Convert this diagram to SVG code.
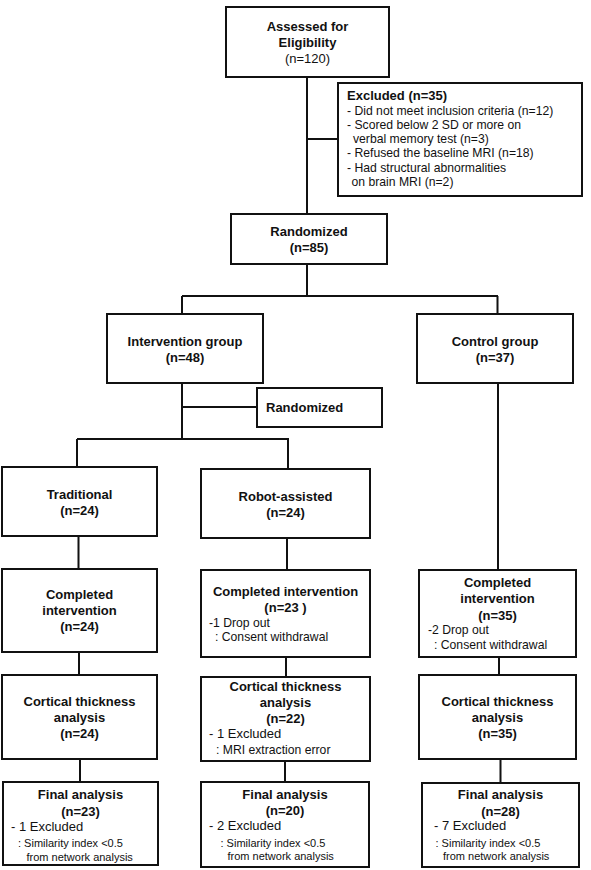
<svg xmlns="http://www.w3.org/2000/svg" width="591" height="870" viewBox="0 0 591 870">
<style>
.box{fill:#fff;stroke:#111;stroke-width:2}
.ln{stroke:#111;stroke-width:2;fill:none}
text{font-family:"Liberation Sans",Arial,sans-serif;fill:#111}
.t{font-size:13px;font-weight:bold;text-anchor:middle}
.n{font-size:13px;text-anchor:middle}
.r{font-size:12.2px}
.r13{font-size:13px}
.s{font-size:11px}
.bl13{font-size:13px;font-weight:bold}
</style>
<rect width="591" height="870" fill="#fff"/>
<g id="connectors">
<path class="ln" d="M307,77V214M307,139H338M307,264V296M182,296H498M182,296V314M497.5,296V314"/>
<path class="ln" d="M182,383V439M182,407H257M77,439H289M77,439V467M288,439V469M498,383V570"/>
<path class="ln" d="M78.5,536V569M287,538V570M79,652V675M286,657V677M499,657V675M80,759V782M285,761V782M500.5,759V783"/>
</g>
<g id="assessed">
<rect class="box" x="226" y="7" width="163" height="70"/>
<text class="t" x="307.5" y="31">Assessed for</text>
<text class="t" x="307.5" y="47">Eligibility</text>
<text class="n" x="307.5" y="63">(n=120)</text>
</g>
<g id="excluded">
<rect class="box" x="338" y="83" width="244" height="113"/>
<text class="bl13" x="347" y="100">Excluded (n=35)</text>
<text class="r" x="347" y="115">- Did not meet inclusion criteria (n=12)</text>
<text class="r" x="347" y="129">- Scored below 2 SD or more on</text>
<text class="r" x="353" y="143">verbal memory test (n=3)</text>
<text class="r" x="347" y="157">- Refused the baseline MRI (n=18)</text>
<text class="r" x="347" y="172">- Had structural abnormalities</text>
<text class="r" x="351.5" y="186">on brain MRI (n=2)</text>
</g>
<g id="randomized1">
<rect class="box" x="231" y="214" width="156" height="50"/>
<text class="t" x="309" y="236">Randomized</text>
<text class="t" x="309" y="252">(n=85)</text>
</g>
<g id="intervention">
<rect class="box" x="107" y="314" width="156" height="69"/>
<text class="t" x="185" y="346">Intervention group</text>
<text class="t" x="185" y="362">(n=48)</text>
</g>
<g id="control">
<rect class="box" x="417" y="314" width="156" height="69"/>
<text class="t" x="495" y="346">Control group</text>
<text class="t" x="495" y="362">(n=37)</text>
</g>
<g id="randomized2">
<rect class="box" x="257" y="388" width="125" height="39"/>
<text class="bl13" x="266" y="412">Randomized</text>
</g>
<g id="traditional">
<rect class="box" x="2" y="467" width="155" height="69"/>
<text class="t" x="79.5" y="499">Traditional</text>
<text class="t" x="79.5" y="515">(n=24)</text>
</g>
<g id="robot">
<rect class="box" x="201" y="469" width="169" height="69"/>
<text class="t" x="285.5" y="501">Robot-assisted</text>
<text class="t" x="285.5" y="517">(n=24)</text>
</g>
<g id="completed-trad">
<rect class="box" x="2" y="569" width="155" height="83"/>
<text class="t" x="79.5" y="599">Completed</text>
<text class="t" x="79.5" y="615">intervention</text>
<text class="t" x="79.5" y="631">(n=24)</text>
</g>
<g id="completed-robot">
<rect class="box" x="201" y="570" width="169" height="87"/>
<text class="t" x="285.5" y="596">Completed intervention</text>
<text class="t" x="285.5" y="612">(n=23 )</text>
<text class="r" x="209" y="627">-1 Drop out</text>
<text class="r" x="215" y="641">: Consent withdrawal</text>
</g>
<g id="completed-control">
<rect class="box" x="419" y="570" width="157" height="87"/>
<text class="t" x="497.5" y="587">Completed</text>
<text class="t" x="497.5" y="603">intervention</text>
<text class="t" x="497.5" y="620">(n=35)</text>
<text class="r" x="428" y="634">-2 Drop out</text>
<text class="r" x="434" y="649">: Consent withdrawal</text>
</g>
<g id="cortical-trad">
<rect class="box" x="2" y="675" width="155" height="84"/>
<text class="t" x="79.5" y="706">Cortical thickness</text>
<text class="t" x="79.5" y="722">analysis</text>
<text class="t" x="79.5" y="738">(n=24)</text>
</g>
<g id="cortical-robot">
<rect class="box" x="201" y="677" width="169" height="84"/>
<text class="t" x="285.5" y="691">Cortical thickness</text>
<text class="t" x="285.5" y="707">analysis</text>
<text class="t" x="285.5" y="723">(n=22)</text>
<text class="r13" x="209" y="738">- 1 Excluded</text>
<text class="r" x="216" y="754">: MRI extraction error</text>
</g>
<g id="cortical-control">
<rect class="box" x="419" y="675" width="157" height="84"/>
<text class="t" x="497.5" y="706">Cortical thickness</text>
<text class="t" x="497.5" y="722">analysis</text>
<text class="t" x="497.5" y="738">(n=35)</text>
</g>
<g id="final-trad">
<rect class="box" x="3" y="782" width="155" height="83"/>
<text class="t" x="80.5" y="799">Final analysis</text>
<text class="t" x="80.5" y="816">(n=23)</text>
<text class="r13" x="11" y="831">- 1 Excluded</text>
<text class="s" x="18" y="847">: Similarity index &lt;0.5</text>
<text class="s" x="26.5" y="861">from network analysis</text>
</g>
<g id="final-robot">
<rect class="box" x="201" y="782" width="168" height="85"/>
<text class="t" x="285" y="799">Final analysis</text>
<text class="t" x="285" y="815">(n=20)</text>
<text class="r13" x="209" y="830">- 2 Excluded</text>
<text class="s" x="220.5" y="847">: Similarity index &lt;0.5</text>
<text class="s" x="227.5" y="860">from network analysis</text>
</g>
<g id="final-control">
<rect class="box" x="422" y="783" width="157" height="84"/>
<text class="t" x="500.5" y="799">Final analysis</text>
<text class="t" x="500.5" y="816">(n=28)</text>
<text class="r13" x="434" y="830">- 7 Excluded</text>
<text class="s" x="435.5" y="847">: Similarity index &lt;0.5</text>
<text class="s" x="443" y="860">from network analysis</text>
</g>
</svg>
